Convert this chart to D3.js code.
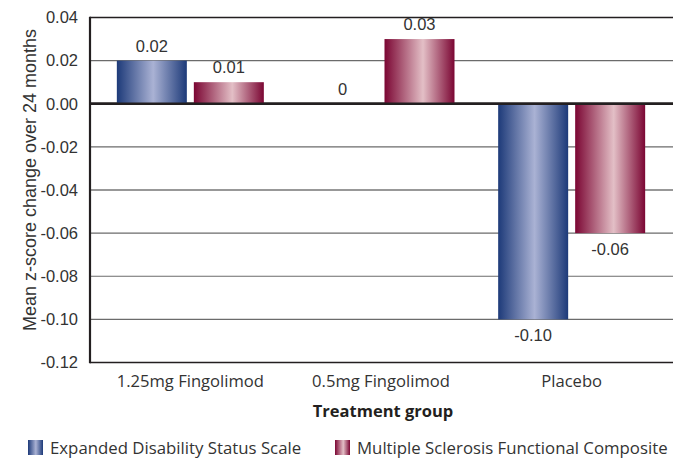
<!DOCTYPE html>
<html><head><meta charset="utf-8">
<script src="https://cdn.jsdelivr.net/npm/d3@7"></script>
<style>
html,body{margin:0;padding:0;background:#fff;}
svg{display:block;font-family:"Open Sans","Noto Sans",sans-serif;}
</style></head>
<body><svg id="c" width="673" height="459"></svg>
<script>
const categories = ["1.25mg Fingolimod", "0.5mg Fingolimod", "Placebo"];
const seriesNames = ["Expanded Disability Status Scale", "Multiple Sclerosis Functional Composite"];
const edss = [0.02, 0, -0.10];
const msfc = [0.01, 0.03, -0.06];
const yTicks = [0.04, 0.02, 0.00, -0.02, -0.04, -0.06, -0.08, -0.10, -0.12];
const yTitle = "Mean z-score change over 24 months";
const xTitle = "Treatment group";

const ARIAL = "'Liberation Sans', Arial, sans-serif";
const HUMAN = "'Open Sans','Noto Sans',sans-serif";

const svg = d3.select("#c");
const defs = svg.append("defs");
function grad(id, edge, mid, midPos) {
  const g = defs.append("linearGradient").attr("id", id).attr("x1","0%").attr("x2","100%").attr("y1","0%").attr("y2","0%");
  g.append("stop").attr("offset","0%").attr("stop-color", edge);
  g.append("stop").attr("offset", midPos).attr("stop-color", mid);
  g.append("stop").attr("offset","100%").attr("stop-color", edge);
}
grad("gBlue", "#1d3a79", "#aab2d4", "52%");
grad("gRed", "#7b0633", "#e3bfc6", "55%");
const fills = ["url(#gBlue)", "url(#gRed)"];

const pL = 90, pR = 673, pT = 17.5, pB = 362.5;
const y = d3.scaleLinear().domain([-0.12, 0.04]).range([pB, pT]);
const x0 = d3.scaleBand().domain(categories).range([95, 667]).paddingInner(0).paddingOuter(0);
const x1 = d3.scaleBand().domain(seriesNames).range([0, x0.bandwidth()]).paddingInner(0.0909).paddingOuter(0.2836);

// gridlines
const g = svg.append("g");
g.selectAll("line.grid").data(yTicks).join("line")
  .attr("x1", pL).attr("x2", pR)
  .attr("y1", d => y(d)).attr("y2", d => y(d))
  .attr("stroke", d => (d === 0.04 || d === -0.12 || d === 0) ? "#231f20" : (d === -0.04 ? "#333" : "#6b6b6b"))
  .attr("stroke-width", d => d === 0 ? 2.5 : (d === 0.04 || d === -0.12) ? 1.6 : 1.2);

// bars
const data = categories.map((c, i) => ({cat: c, vals: [edss[i], msfc[i]]}));
const grp = svg.append("g").selectAll("g").data(data).join("g")
  .attr("transform", d => `translate(${x0(d.cat)},0)`);
grp.selectAll("rect").data(d => d.vals.map((v, j) => ({v, s: seriesNames[j], j}))).join("rect")
  .attr("x", d => x1(d.s)).attr("width", x1.bandwidth())
  .attr("y", d => y(Math.max(0, d.v))).attr("height", d => Math.abs(y(d.v) - y(0)))
  .attr("fill", d => fills[d.j]);
// redraw zero line on top
svg.append("line").attr("x1", pL).attr("x2", pR).attr("y1", y(0)).attr("y2", y(0))
  .attr("stroke", "#231f20").attr("stroke-width", 2.5);

grp.selectAll("text").data(d => d.vals.map((v, j) => ({v, s: seriesNames[j]}))).join("text")
  .attr("x", d => x1(d.s) + x1.bandwidth() / 2)
  .attr("y", d => d.v >= 0 ? y(d.v) - 9 : y(d.v) + 22)
  .attr("text-anchor", "middle").attr("font-size", 16.5).attr("fill", "#333")
  .attr("font-family", ARIAL)
  .text(d => d.v === 0 ? "0" : d.v.toFixed(2));

// y axis
const yAxis = d3.axisLeft(y).tickValues(yTicks).tickFormat(d => d.toFixed(2)).tickSize(0).tickPadding(12);
const ya = svg.append("g").attr("transform", `translate(${pL},0)`).call(yAxis);
ya.select(".domain").remove();
ya.selectAll("text").attr("font-size", 16.5).attr("fill", "#333").attr("font-family", ARIAL);
svg.append("line").attr("x1", pL).attr("x2", pL).attr("y1", pT - 0.8).attr("y2", pB + 0.8)
  .attr("stroke", "#231f20").attr("stroke-width", 2.2);

// x axis labels
const xAxis = d3.axisBottom(x0).tickSize(0).tickPadding(13);
const xa = svg.append("g").attr("transform", `translate(0,${pB})`).call(xAxis);
xa.select(".domain").remove();
xa.selectAll("text").attr("font-size", 16.6).attr("fill", "#333").attr("font-family", HUMAN);

svg.append("text").attr("x", 383).attr("y", 417).attr("text-anchor", "middle")
  .attr("font-size", 16.5).attr("font-weight", "bold").attr("fill", "#231f20").attr("font-family", HUMAN).text(xTitle);
svg.append("text").attr("transform", `translate(36,180) rotate(-90)`)
  .attr("text-anchor", "middle").attr("font-size", 18).attr("fill", "#333").attr("font-family", ARIAL).text(yTitle);

// legend
const legX = [28, 335];
const leg = svg.append("g").selectAll("g").data(seriesNames).join("g")
  .attr("transform", (d, i) => `translate(${legX[i]},440)`);
leg.append("rect").attr("width", 15).attr("height", 15).attr("fill", (d, i) => fills[i]);
leg.append("text").attr("x", 22).attr("y", 13.5).attr("font-size", 16.8).attr("fill", "#333").attr("font-family", HUMAN).text(d => d);
</script></body></html>
